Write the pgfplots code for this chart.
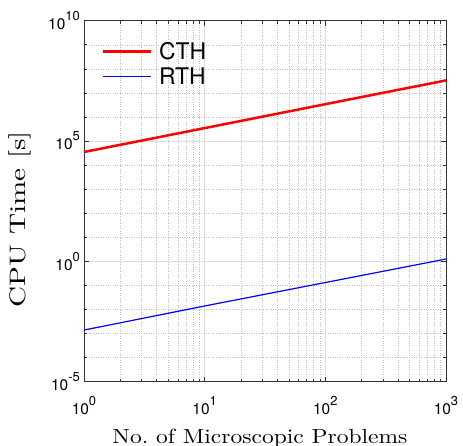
\documentclass[border=0pt]{standalone}
\usepackage{fontspec}
\usepackage{pgfplots}
\pgfplotsset{compat=1.18}
\newfontfamily\hv{TeX Gyre Heros}
\newfontfamily\lmten[Extension=.otf]{lmroman10-regular}
\newcommand\pw[1]{{\hv\fontsize{15.5}{17}\selectfont 10\raisebox{9bp}{\fontsize{13}{13}\selectfont #1}}}
\begin{document}
\begin{tikzpicture}
\begin{axis}[
  xmode=log, ymode=log,
  width=362bp, height=361bp, scale only axis,
  xmin=1, xmax=1000, ymin=1e-5, ymax=1e10,
  xtick={1,10,100,1000},
  xticklabels={\pw{0},\pw{1},\pw{2},\pw{3}},
  minor xtick={2,3,4,5,6,7,8,9,20,30,40,50,60,70,80,90,200,300,400,500,600,700,800,900},
  ytick={1e-5,1,1e5,1e10},
  yticklabels={\pw{-5},\pw{0},\pw{5},\pw{10}},
  minor ytick={1e-4,1e-3,1e-2,1e-1,10,100,1000,1e4,1e6,1e7,1e8,1e9},
  grid=both,
  major grid style={black!13, line width=0.6pt},
  minor grid style={black!25, dotted, line width=0.5pt},
  tick align=inside,
  major tick length=5bp, minor tick length=3bp,
  axis line style={black!80, line width=0.7pt},
  tick style={black!80, line width=0.6pt},
  xlabel={\lmten\fontsize{20.5}{22}\selectfont\scalebox{1.15}[1]{No.\ of Microscopic Problems}},
  ylabel={\lmten\fontsize{22.5}{24}\selectfont\scalebox{1.3}[1]{CPU Time [s]}},
  xlabel style={at={(axis description cs:0.486,-0.1706)}, anchor=base},
  ylabel style={at={(axis description cs:-0.178,0.45)}, anchor=center},
  tick label style={inner sep=0bp},
  xticklabel style={yshift=-14.9bp},
  yticklabel style={xshift=-4bp},
  legend style={draw=none, fill=none, inner sep=0bp, outer sep=0bp,
    at={(axis description cs:0.0497,0.938)}, anchor=north west,
    font=\fontsize{23}{25}\selectfont\hv, row sep=8.5bp, column sep=6.7bp,
    nodes={inner sep=0bp, outer sep=0bp, text height=16.5bp, text depth=0bp}},
  legend cell align=left,
  legend image code/.code={\draw[#1] (0bp,0bp)--(48bp,0bp);},
]
\addplot[red, line width=2.5bp] coordinates {(1,3.5e4) (10,3.45e5) (100,3.4e6) (1000,3.3e7)};
\addlegendentry{CTH}
\addplot[blue, line width=1.2bp] coordinates {(1,1.4e-3) (10,1.4e-2) (100,1.32e-1) (1000,1.25)};
\addlegendentry{RTH}
\end{axis}
\pgfresetboundingbox
\path (current axis.south west) ++(-84bp,-64.3bp) rectangle ++(463bp,446bp);
\end{tikzpicture}
\end{document}
